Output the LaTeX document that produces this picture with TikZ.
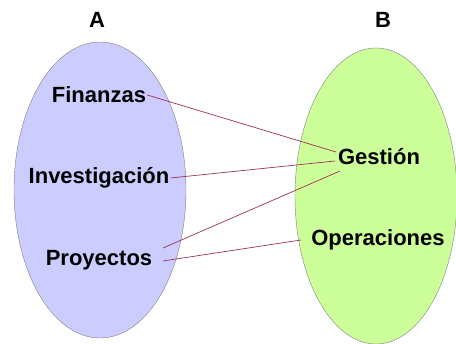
\documentclass[tikz,border=0pt]{standalone}
\usepackage{fontspec}
\setmainfont{Liberation Sans}
\definecolor{setAfill}{HTML}{CCCCFF}
\definecolor{setBfill}{HTML}{CCFF99}
\definecolor{linkred}{HTML}{993355}

\begin{document}
\begin{tikzpicture}[x=1pt,y=-1pt,
		lbl/.style={font=\fontsize{22}{26}\selectfont\bfseries, inner sep=1pt},
		link/.style={draw=linkred, line width=0.7pt}]
		\useasboundingbox (0,0) rectangle (456,344);
		
		\draw [fill=setAfill, draw=gray] (100,190) ellipse [x radius=86pt, y radius=148pt];
		\draw [fill=setBfill, draw=gray] (376,196) ellipse [x radius=81pt, y radius=148pt];
		
		\node [lbl] (A) at (97, 20) {A};
		\node [lbl] (B) at (383, 20) {B};
		
		\node [lbl] (fin) at (99, 95) {Finanzas};
		\node [lbl] (inv) at (99, 178) {Investigación};
		\node [lbl] (pro) at (99, 260) {Proyectos};
		\node [lbl] (ges) at (379, 157) {Gestión};
		\node [lbl] (ope) at (378, 240) {Operaciones};
		
		\coordinate (pro1) at (163, 248);
		\coordinate (pro2) at (163, 261);
		\coordinate (ges1) at (336, 152);
		\coordinate (ges2) at (335, 161);
		\coordinate (ges3) at (340, 171);
		\coordinate (ope1) at (301, 240);
		
		\draw [link] (fin.east) -- (ges1);
		\draw [link] (inv.east) -- (ges2);
		\draw [link] (pro1) -- (ges3);
		\draw [link] (pro2) -- (ope1);
	\end{tikzpicture}
\end{document}
